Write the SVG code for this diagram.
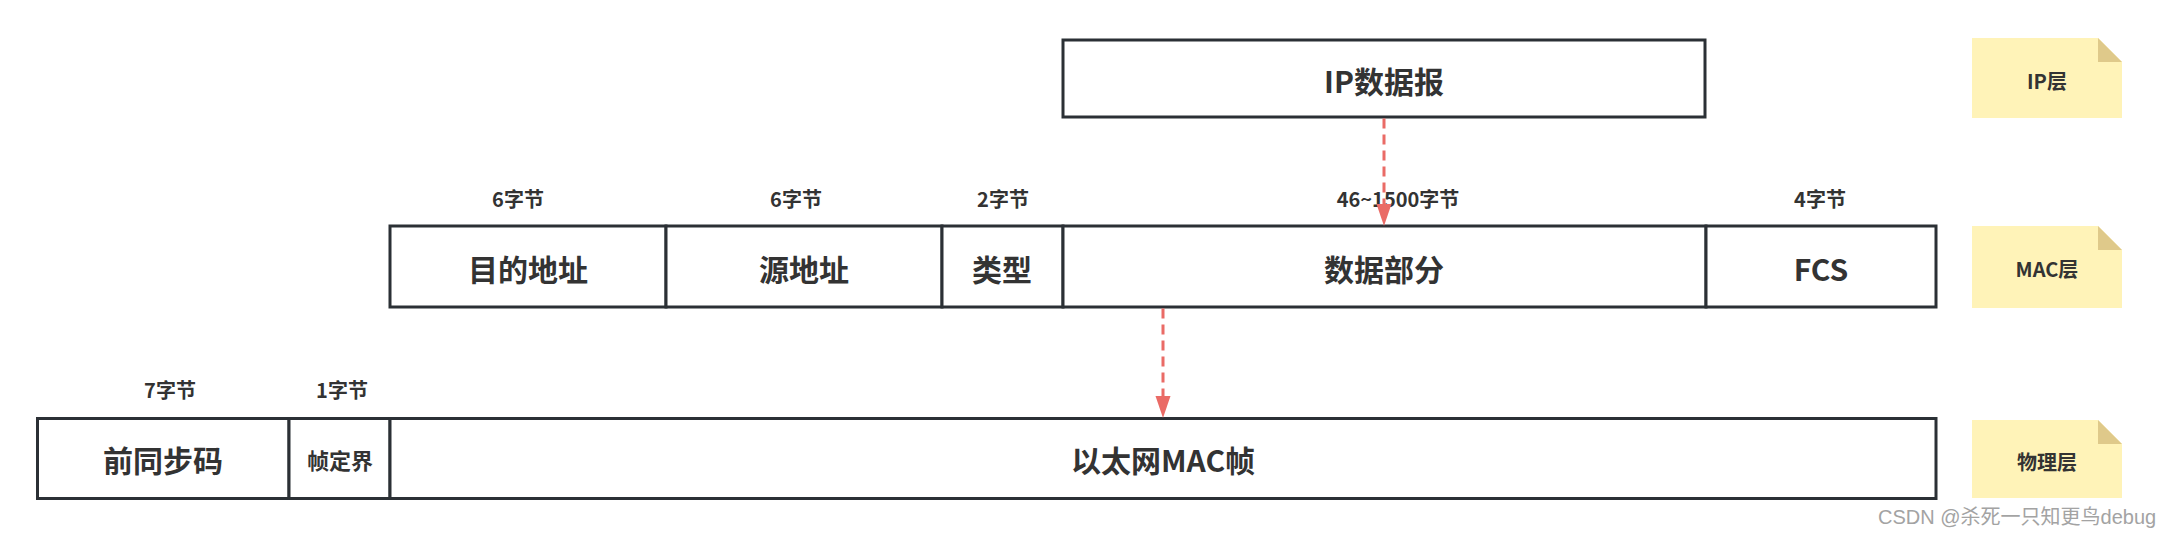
<svg xmlns="http://www.w3.org/2000/svg" width="2159" height="536" viewBox="0 0 2159 536">
<style>
.box{fill:#ffffff;stroke:#2b3035;stroke-width:3}
.main{font-family:"Noto Sans CJK SC","Noto Sans",sans-serif;font-weight:bold;font-size:30px;fill:#333333;text-anchor:middle;dominant-baseline:central}
.mid{font-family:"Noto Sans CJK SC","Noto Sans",sans-serif;font-weight:bold;font-size:22px;fill:#333333;text-anchor:middle;dominant-baseline:central}
.lbl{font-family:"Noto Sans CJK SC","Noto Sans",sans-serif;font-weight:bold;font-size:20px;fill:#333333;text-anchor:middle;dominant-baseline:central}
.note{fill:#fff3b8}
.fold{fill:#dfc98a}
.conn{stroke:#ea6b66;stroke-width:3;stroke-dasharray:10 6;fill:none}
.wm{font-family:"Liberation Sans","Noto Sans CJK SC",sans-serif;font-size:20px;fill:#a3a3a3}
</style>
<defs>
<marker id="ah" markerUnits="userSpaceOnUse" markerWidth="22" markerHeight="16" refX="0" refY="8" orient="auto">
<path d="M0,0.5 L22,8 L0,15.5 z" fill="#ea6b66"/>
</marker>
</defs>

<g id="ip-datagram">
<rect class="box" x="1063" y="40" width="642" height="77"/>
<text class="main" x="1384" y="80">IP数据报</text>
</g>

<g id="mac-labels">
<text class="lbl" x="518" y="198">6字节</text>
<text class="lbl" x="796" y="198">6字节</text>
<text class="lbl" x="1003" y="198">2字节</text>
<text class="lbl" x="1398" y="198">46~1500字节</text>
<text class="lbl" x="1820" y="198">4字节</text>
</g>

<g id="mac-dst">
<rect class="box" x="390" y="226" width="276" height="81"/>
<text class="main" x="528" y="268">目的地址</text>
</g>
<g id="mac-src">
<rect class="box" x="666" y="226" width="276" height="81"/>
<text class="main" x="804" y="268">源地址</text>
</g>
<g id="mac-type">
<rect class="box" x="942" y="226" width="121" height="81"/>
<text class="main" x="1002" y="268">类型</text>
</g>
<g id="mac-data">
<rect class="box" x="1063" y="226" width="643" height="81"/>
<text class="main" x="1384" y="268">数据部分</text>
</g>
<g id="mac-fcs">
<rect class="box" x="1706" y="226" width="230" height="81"/>
<text class="main" x="1821" y="268">FCS</text>
</g>

<g id="phy-labels">
<text class="lbl" x="170" y="389">7字节</text>
<text class="lbl" x="342" y="389">1字节</text>
</g>

<g id="phy-preamble">
<rect class="box" x="37.5" y="418.5" width="251.5" height="80"/>
<text class="main" x="163" y="459">前同步码</text>
</g>
<g id="phy-sfd">
<rect class="box" x="289" y="418.5" width="101" height="80"/>
<text class="mid" x="340" y="459">帧定界</text>
</g>
<g id="phy-frame">
<rect class="box" x="390" y="418.5" width="1546" height="80"/>
<text class="main" x="1163" y="459">以太网MAC帧</text>
</g>

<g id="note-ip">
<path class="note" d="M1972,38 H2098 L2122,62 V118 H1972 Z"/>
<path class="fold" d="M2098,38 L2122,62 H2098 Z"/>
<text class="lbl" x="2047" y="80">IP层</text>
</g>
<g id="note-mac">
<path class="note" d="M1972,226 H2098 L2122,250 V308 H1972 Z"/>
<path class="fold" d="M2098,226 L2122,250 H2098 Z"/>
<text class="lbl" x="2047" y="268">MAC层</text>
</g>
<g id="note-phy">
<path class="note" d="M1972,420 H2098 L2122,444 V498 H1972 Z"/>
<path class="fold" d="M2098,420 L2122,444 H2098 Z"/>
<text class="lbl" x="2047" y="461">物理层</text>
</g>

<g id="connectors">
<line class="conn" x1="1384" y1="118.5" x2="1384" y2="204" marker-end="url(#ah)"/>
<line class="conn" x1="1163" y1="308.5" x2="1163" y2="396" marker-end="url(#ah)"/>
</g>

<text class="wm" x="1878" y="524">CSDN @杀死一只知更鸟debug</text>
</svg>
